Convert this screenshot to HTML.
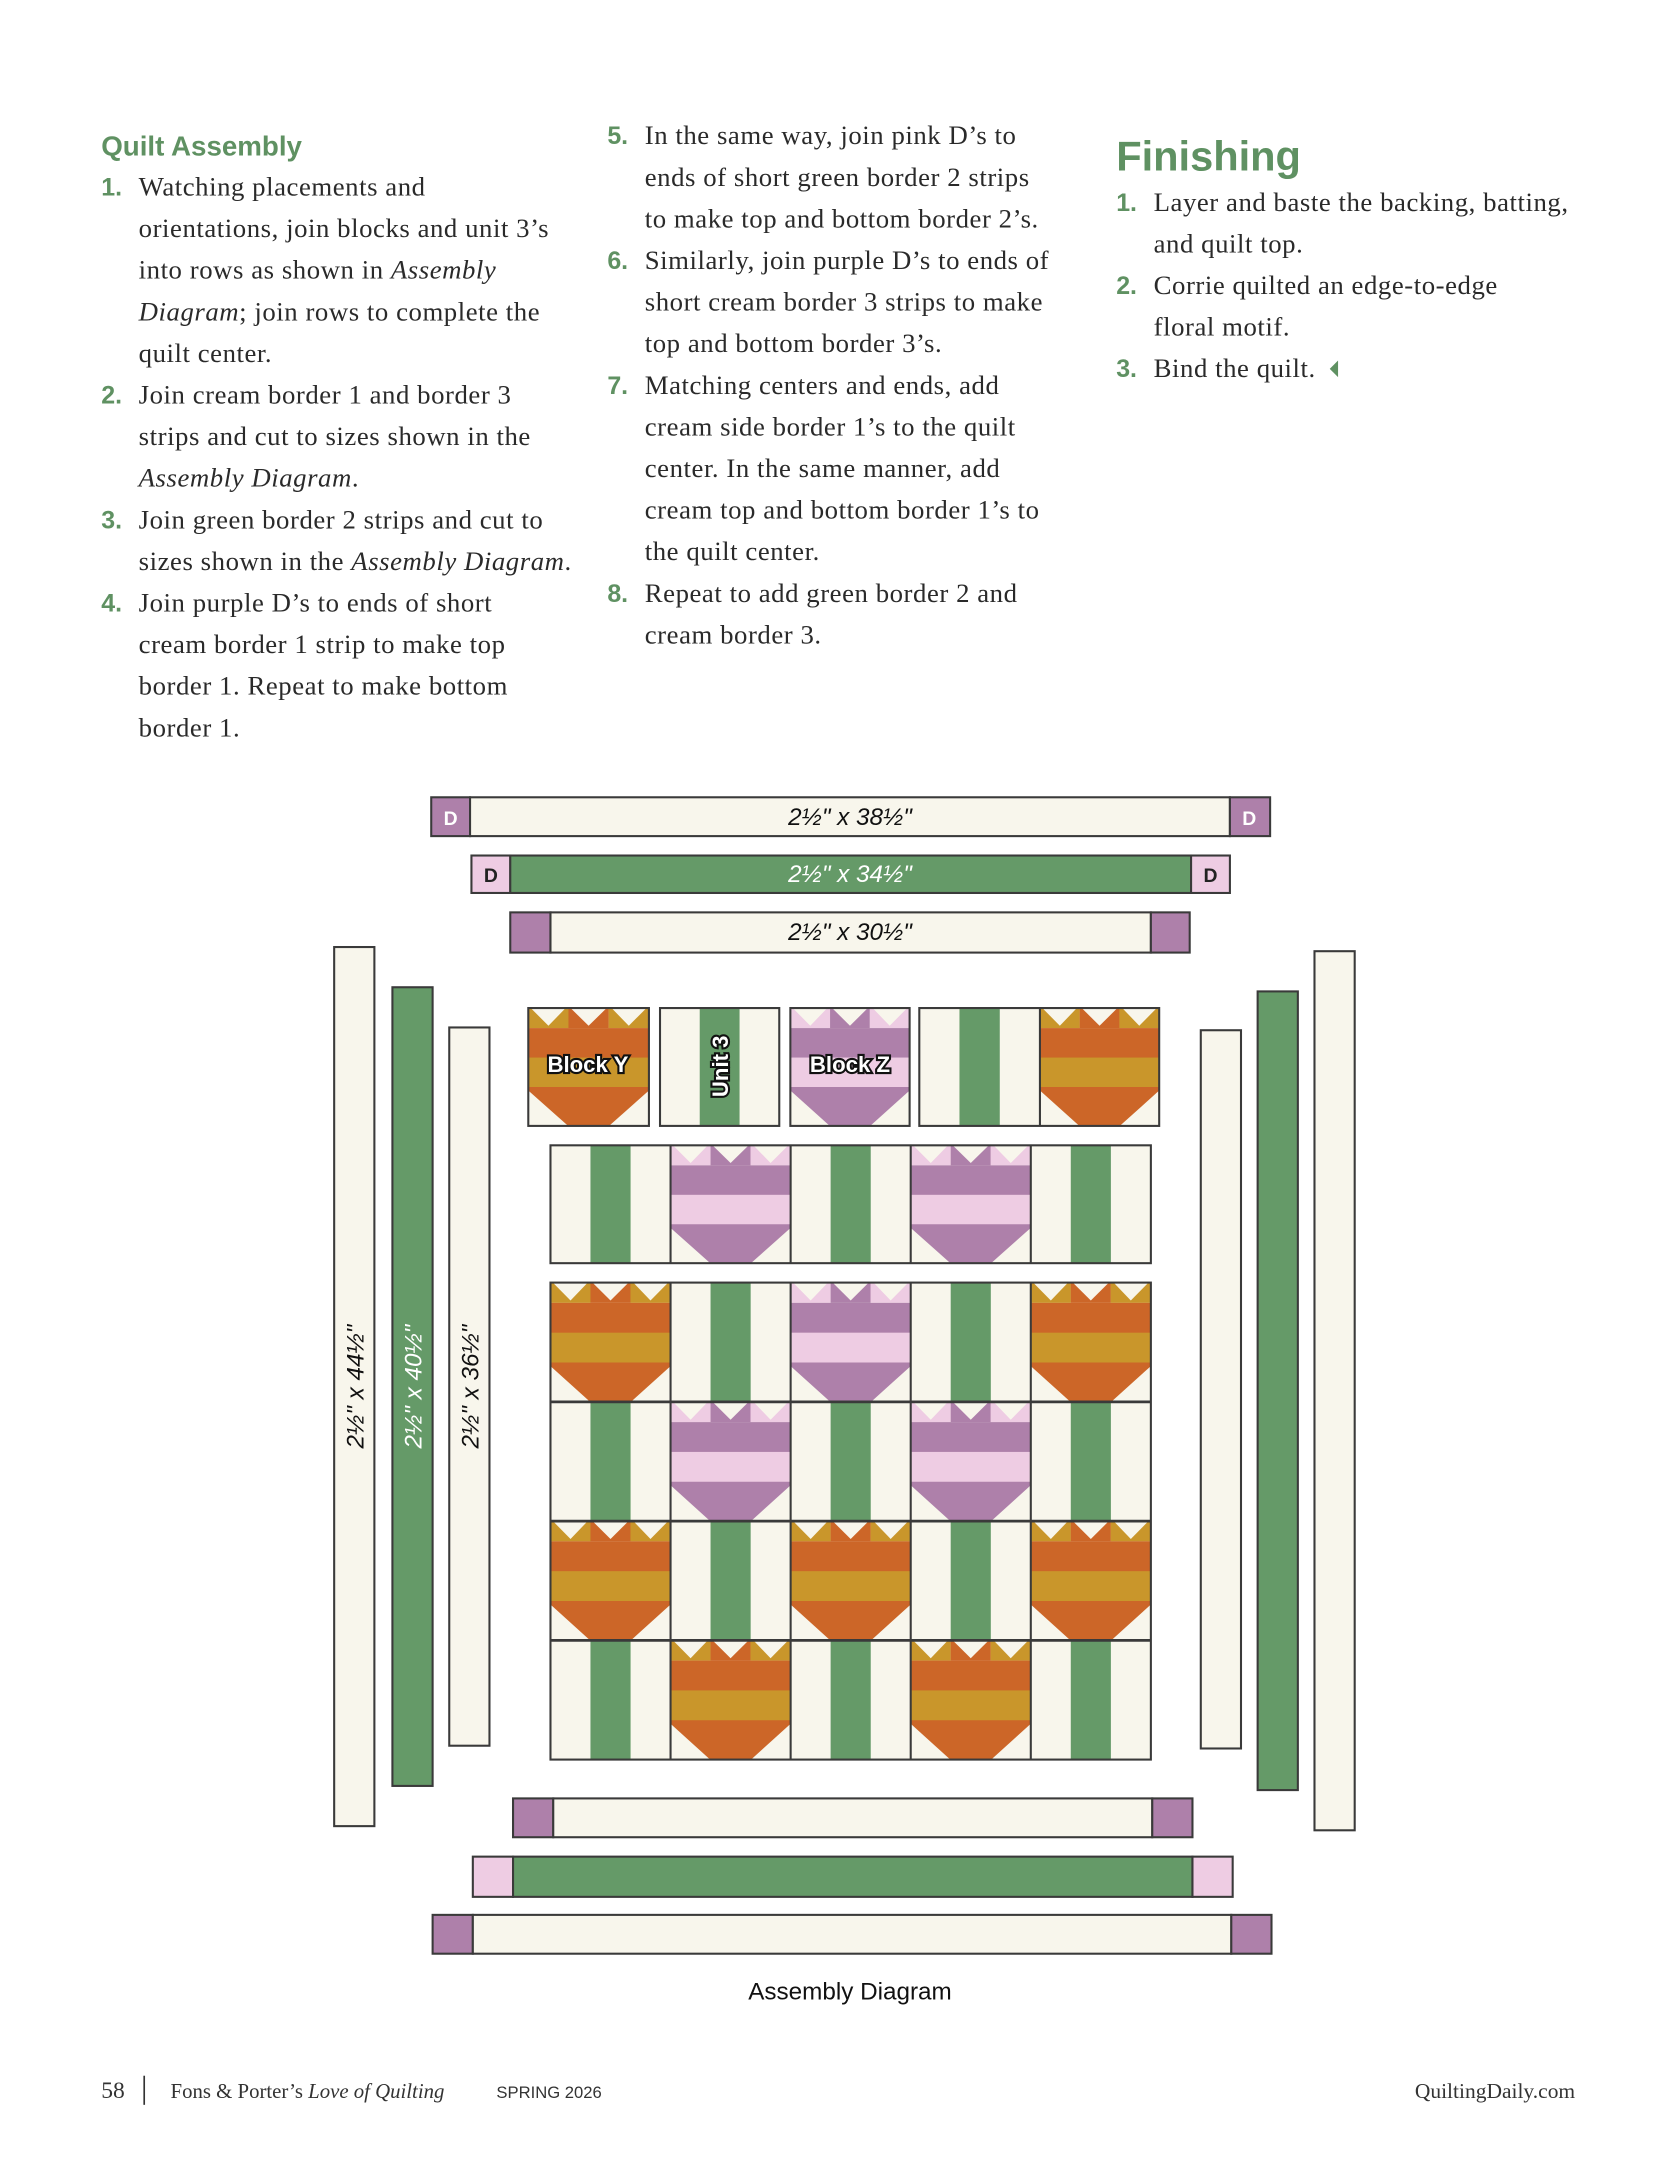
<!DOCTYPE html>
<html><head><meta charset="utf-8"><style>
html,body{margin:0;padding:0;background:#fff;}
svg{display:block;}
.t{font-family:"Liberation Serif",serif;font-size:19.3px;letter-spacing:0.4px;fill:#2a2a2a;}
.n{font-family:"Liberation Sans",sans-serif;font-weight:bold;font-size:18px;fill:#5f9162;}
.h{font-family:"Liberation Sans",sans-serif;font-weight:bold;fill:#5f9162;}
.lab{font-family:"Liberation Sans",sans-serif;font-style:italic;font-size:17.5px;}
.d{font-family:"Liberation Sans",sans-serif;font-weight:bold;font-size:14px;}
.bl{font-family:"Liberation Sans",sans-serif;font-weight:bold;font-size:16px;fill:#fff;stroke:#111;stroke-width:3;paint-order:stroke;}
</style></head><body>
<svg width="1675" height="2175" viewBox="0 0 1208 1568.6" xmlns="http://www.w3.org/2000/svg">
<defs>
<g id="to">
<rect x="0" y="0" width="100" height="100" fill="#f8f6ec"/>
<rect x="0" y="0" width="33.4" height="17" fill="#c9962b"/>
<rect x="33.3" y="0" width="33.4" height="17" fill="#cc6628"/>
<rect x="66.6" y="0" width="33.4" height="17" fill="#c9962b"/>
<polygon points="2,0 31,0 16.7,15" fill="#f8f6ec"/>
<polygon points="35,0 65,0 50,15" fill="#f8f6ec"/>
<polygon points="69,0 98,0 83.3,15" fill="#f8f6ec"/>
<rect x="0" y="17" width="100" height="25.5" fill="#cc6628"/>
<rect x="0" y="42" width="100" height="25.5" fill="#c9962b"/>
<polygon points="0,67 100,67 100,70 67,100 33,100 0,70" fill="#cc6628"/>
</g>
<g id="tp">
<rect x="0" y="0" width="100" height="100" fill="#f8f6ec"/>
<rect x="0" y="0" width="33.4" height="17" fill="#eecce3"/>
<rect x="33.3" y="0" width="33.4" height="17" fill="#ae80aa"/>
<rect x="66.6" y="0" width="33.4" height="17" fill="#eecce3"/>
<polygon points="2,0 31,0 16.7,15" fill="#f8f6ec"/>
<polygon points="35,0 65,0 50,15" fill="#f8f6ec"/>
<polygon points="69,0 98,0 83.3,15" fill="#f8f6ec"/>
<rect x="0" y="17" width="100" height="25.5" fill="#ae80aa"/>
<rect x="0" y="42" width="100" height="25.5" fill="#eecce3"/>
<polygon points="0,67 100,67 100,70 67,100 33,100 0,70" fill="#ae80aa"/>
</g>
<g id="st">
<rect x="0" y="0" width="100" height="100" fill="#f8f6ec"/>
<rect x="33.3" y="0" width="33.4" height="100" fill="#659a68"/>
</g>
</defs>

<!-- Column 1 -->
<text class="h" x="73" y="112" font-size="20">Quilt Assembly</text>
<text class="n" x="73" y="141">1.</text>
<text class="t" x="100" y="141">Watching placements and</text>
<text class="t" x="100" y="171">orientations, join blocks and unit 3’s</text>
<text class="t" x="100" y="201">into rows as shown in <tspan font-style="italic">Assembly</tspan></text>
<text class="t" x="100" y="231"><tspan font-style="italic">Diagram</tspan>; join rows to complete the</text>
<text class="t" x="100" y="261">quilt center.</text>
<text class="n" x="73" y="291">2.</text>
<text class="t" x="100" y="291">Join cream border 1 and border 3</text>
<text class="t" x="100" y="321">strips and cut to sizes shown in the</text>
<text class="t" x="100" y="351"><tspan font-style="italic">Assembly Diagram</tspan>.</text>
<text class="n" x="73" y="381">3.</text>
<text class="t" x="100" y="381">Join green border 2 strips and cut to</text>
<text class="t" x="100" y="411">sizes shown in the <tspan font-style="italic">Assembly Diagram</tspan>.</text>
<text class="n" x="73" y="441">4.</text>
<text class="t" x="100" y="441">Join purple D’s to ends of short</text>
<text class="t" x="100" y="471">cream border 1 strip to make top</text>
<text class="t" x="100" y="501">border 1. Repeat to make bottom</text>
<text class="t" x="100" y="531">border 1.</text>

<!-- Column 2 -->
<text class="n" x="438" y="104">5.</text>
<text class="t" x="465" y="104">In the same way, join pink D’s to</text>
<text class="t" x="465" y="134">ends of short green border 2 strips</text>
<text class="t" x="465" y="164">to make top and bottom border 2’s.</text>
<text class="n" x="438" y="194">6.</text>
<text class="t" x="465" y="194">Similarly, join purple D’s to ends of</text>
<text class="t" x="465" y="224">short cream border 3 strips to make</text>
<text class="t" x="465" y="254">top and bottom border 3’s.</text>
<text class="n" x="438" y="284">7.</text>
<text class="t" x="465" y="284">Matching centers and ends, add</text>
<text class="t" x="465" y="314">cream side border 1’s to the quilt</text>
<text class="t" x="465" y="344">center. In the same manner, add</text>
<text class="t" x="465" y="374">cream top and bottom border 1’s to</text>
<text class="t" x="465" y="404">the quilt center.</text>
<text class="n" x="438" y="434">8.</text>
<text class="t" x="465" y="434">Repeat to add green border 2 and</text>
<text class="t" x="465" y="464">cream border 3.</text>

<!-- Column 3 -->
<text class="h" x="805" y="123" font-size="30">Finishing</text>
<text class="n" x="805" y="152">1.</text>
<text class="t" x="832" y="152">Layer and baste the backing, batting,</text>
<text class="t" x="832" y="182">and quilt top.</text>
<text class="n" x="805" y="212">2.</text>
<text class="t" x="832" y="212">Corrie quilted an edge-to-edge</text>
<text class="t" x="832" y="242">floral motif.</text>
<text class="n" x="805" y="272">3.</text>
<text class="t" x="832" y="272">Bind the quilt.</text>
<polygon points="965,260 965,272 959,266" fill="#5f9162"/>

<!-- Diagram strips -->
<g stroke="#3a3a3a" stroke-width="1.5">
<rect x="311" y="575" width="28" height="28" fill="#ae80aa"/>
<rect x="339" y="575" width="548" height="28" fill="#f8f6ec"/>
<rect x="887" y="575" width="29" height="28" fill="#ae80aa"/>
<rect x="340" y="617" width="28" height="27" fill="#eecce3"/>
<rect x="368" y="617" width="491" height="27" fill="#659a68"/>
<rect x="859" y="617" width="28" height="27" fill="#eecce3"/>
<rect x="368" y="658" width="29" height="29" fill="#ae80aa"/>
<rect x="397" y="658" width="433" height="29" fill="#f8f6ec"/>
<rect x="830" y="658" width="28" height="29" fill="#ae80aa"/>

<rect x="241" y="683" width="29" height="634" fill="#f8f6ec"/>
<rect x="283" y="712" width="29" height="576" fill="#659a68"/>
<rect x="324" y="741" width="29" height="518" fill="#f8f6ec"/>
<rect x="866" y="743" width="29" height="518" fill="#f8f6ec"/>
<rect x="907" y="715" width="29" height="576" fill="#659a68"/>
<rect x="948" y="686" width="29" height="634" fill="#f8f6ec"/>

<rect x="370" y="1297" width="29" height="28" fill="#ae80aa"/>
<rect x="399" y="1297" width="432" height="28" fill="#f8f6ec"/>
<rect x="831" y="1297" width="29" height="28" fill="#ae80aa"/>
<rect x="341" y="1339" width="29" height="29" fill="#eecce3"/>
<rect x="370" y="1339" width="490" height="29" fill="#659a68"/>
<rect x="860" y="1339" width="29" height="29" fill="#eecce3"/>
<rect x="312" y="1381" width="29" height="28" fill="#ae80aa"/>
<rect x="341" y="1381" width="547" height="28" fill="#f8f6ec"/>
<rect x="888" y="1381" width="29" height="28" fill="#ae80aa"/>
</g>
<text class="d" x="325" y="595" text-anchor="middle" fill="#fff">D</text>
<text class="d" x="901" y="595" text-anchor="middle" fill="#fff">D</text>
<text class="d" x="354" y="636" text-anchor="middle" fill="#222">D</text>
<text class="d" x="873" y="636" text-anchor="middle" fill="#222">D</text>
<text class="lab" x="613" y="595" text-anchor="middle" fill="#111">2½" x 38½"</text>
<text class="lab" x="613" y="636" text-anchor="middle" fill="#fff">2½" x 34½"</text>
<text class="lab" x="613" y="678" text-anchor="middle" fill="#111">2½" x 30½"</text>
<text class="lab" transform="translate(262,1000) rotate(-90)" text-anchor="middle" fill="#111">2½" x 44½"</text>
<text class="lab" transform="translate(304,1000) rotate(-90)" text-anchor="middle" fill="#fff">2½" x 40½"</text>
<text class="lab" transform="translate(345,1000) rotate(-90)" text-anchor="middle" fill="#111">2½" x 36½"</text>

<!-- Row 1 -->
<use href="#to" transform="translate(381,727) scale(0.87,0.85)"/>
<use href="#st" transform="translate(476,727) scale(0.86,0.85)"/>
<use href="#tp" transform="translate(570,727) scale(0.86,0.85)"/>
<use href="#st" transform="translate(663,727) scale(0.87,0.85)"/>
<use href="#to" transform="translate(750,727) scale(0.86,0.85)"/>
<g fill="none" stroke="#3a3a3a" stroke-width="1.5">
<rect x="381" y="727" width="87" height="85"/>
<rect x="476" y="727" width="86" height="85"/>
<rect x="570" y="727" width="86" height="85"/>
<rect x="663" y="727" width="173" height="85"/>
<line x1="750" y1="727" x2="750" y2="812"/>
</g>
<text class="bl" x="424" y="773" text-anchor="middle">Block Y</text>
<text class="bl" x="613" y="773" text-anchor="middle">Block Z</text>
<text class="bl" transform="translate(525,769) rotate(-90)" text-anchor="middle">Unit 3</text>

<!-- Row 2 -->
<use href="#st" transform="translate(397,826) scale(0.866,0.85)"/>
<use href="#tp" transform="translate(483.6,826) scale(0.866,0.85)"/>
<use href="#st" transform="translate(570.2,826) scale(0.866,0.85)"/>
<use href="#tp" transform="translate(656.8,826) scale(0.866,0.85)"/>
<use href="#st" transform="translate(743.4,826) scale(0.866,0.85)"/>
<g fill="none" stroke="#3a3a3a" stroke-width="1.5">
<rect x="397" y="826" width="433" height="85"/>
<line x1="483.6" y1="826" x2="483.6" y2="911"/>
<line x1="570.2" y1="826" x2="570.2" y2="911"/>
<line x1="656.8" y1="826" x2="656.8" y2="911"/>
<line x1="743.4" y1="826" x2="743.4" y2="911"/>
</g>

<!-- Rows 3-6 -->
<use href="#to" transform="translate(397,925) scale(0.866,0.86)"/>
<use href="#st" transform="translate(483.6,925) scale(0.866,0.86)"/>
<use href="#tp" transform="translate(570.2,925) scale(0.866,0.86)"/>
<use href="#st" transform="translate(656.8,925) scale(0.866,0.86)"/>
<use href="#to" transform="translate(743.4,925) scale(0.866,0.86)"/>

<use href="#st" transform="translate(397,1011) scale(0.866,0.86)"/>
<use href="#tp" transform="translate(483.6,1011) scale(0.866,0.86)"/>
<use href="#st" transform="translate(570.2,1011) scale(0.866,0.86)"/>
<use href="#tp" transform="translate(656.8,1011) scale(0.866,0.86)"/>
<use href="#st" transform="translate(743.4,1011) scale(0.866,0.86)"/>

<use href="#to" transform="translate(397,1097) scale(0.866,0.86)"/>
<use href="#st" transform="translate(483.6,1097) scale(0.866,0.86)"/>
<use href="#to" transform="translate(570.2,1097) scale(0.866,0.86)"/>
<use href="#st" transform="translate(656.8,1097) scale(0.866,0.86)"/>
<use href="#to" transform="translate(743.4,1097) scale(0.866,0.86)"/>

<use href="#st" transform="translate(397,1183) scale(0.866,0.86)"/>
<use href="#to" transform="translate(483.6,1183) scale(0.866,0.86)"/>
<use href="#st" transform="translate(570.2,1183) scale(0.866,0.86)"/>
<use href="#to" transform="translate(656.8,1183) scale(0.866,0.86)"/>
<use href="#st" transform="translate(743.4,1183) scale(0.866,0.86)"/>

<g fill="none" stroke="#3a3a3a" stroke-width="1.5">
<rect x="397" y="925" width="433" height="344"/>
<line x1="483.6" y1="925" x2="483.6" y2="1269"/>
<line x1="570.2" y1="925" x2="570.2" y2="1269"/>
<line x1="656.8" y1="925" x2="656.8" y2="1269"/>
<line x1="743.4" y1="925" x2="743.4" y2="1269"/>
<line x1="397" y1="1011" x2="830" y2="1011" stroke-width="2"/>
<line x1="397" y1="1097" x2="830" y2="1097" stroke-width="2"/>
<line x1="397" y1="1183" x2="830" y2="1183" stroke-width="2"/>
</g>

<text x="613" y="1442" text-anchor="middle" font-family="Liberation Sans, sans-serif" font-size="17.5" fill="#111">Assembly Diagram</text>

<!-- Footer -->
<text x="73" y="1513" font-family="Liberation Serif, serif" font-size="17" fill="#333">58</text>
<line x1="104" y1="1497" x2="104" y2="1518" stroke="#333" stroke-width="1.2"/>
<text x="123" y="1513" font-family="Liberation Serif, serif" font-size="15" fill="#333">Fons &amp; Porter’s <tspan font-style="italic">Love of Quilting</tspan></text>
<text x="358" y="1513" font-family="Liberation Sans, sans-serif" font-size="12" fill="#333">SPRING 2026</text>
<text x="1136" y="1513" text-anchor="end" font-family="Liberation Serif, serif" font-size="15.5" fill="#333">QuiltingDaily.com</text>
</svg>
</body></html>
